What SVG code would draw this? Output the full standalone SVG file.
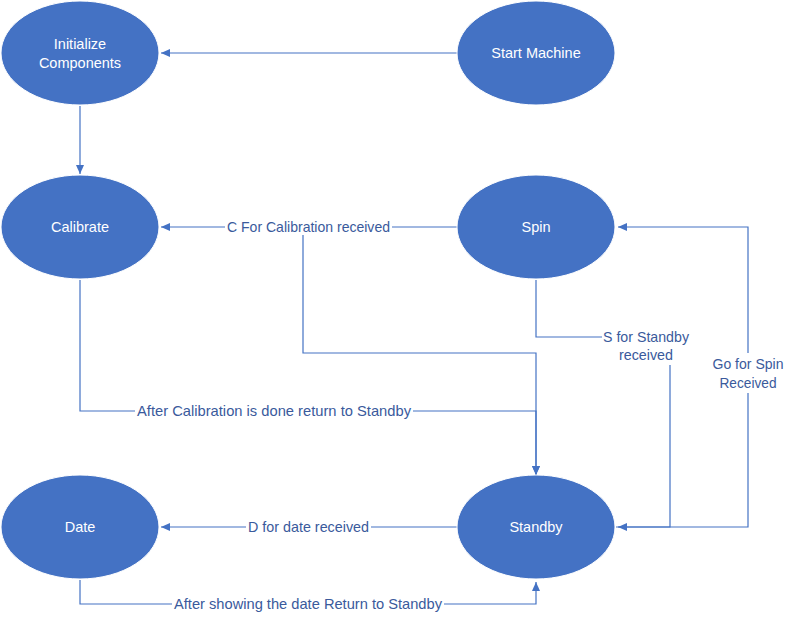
<svg xmlns="http://www.w3.org/2000/svg" width="793" height="622" viewBox="0 0 793 622">
<defs>
<marker id="arr" markerWidth="10" markerHeight="10" refX="9" refY="5" orient="auto" markerUnits="userSpaceOnUse">
<path d="M0,1 L9,5 L0,9 Z" fill="#4472C4"/>
</marker>
<style>
.node ellipse{fill:#4472C4;stroke:#ffffff;stroke-width:1}
.node text{fill:#ffffff;font-family:"Liberation Sans","DejaVu Sans",sans-serif;font-size:14.5px;text-anchor:middle;dominant-baseline:central}
.conn path{fill:none;stroke:#4472C4;stroke-width:1.2}
.lbl rect{fill:#ffffff}
.lbl text{fill:#3A5A9C;font-family:"Liberation Sans","DejaVu Sans",sans-serif;font-size:14.5px;text-anchor:middle;dominant-baseline:central}
</style>
</defs>
<rect width="793" height="622" fill="#ffffff"/>
<g id="connectors" class="conn">
<path d="M457,53 H161" marker-end="url(#arr)"/>
<path d="M80,106 V174" marker-end="url(#arr)"/>
<path d="M457,227 H161" marker-end="url(#arr)"/>
<path d="M303,227 V353 H536 V475" marker-end="url(#arr)"/>
<path d="M80,280 V411 H536 V475" marker-end="url(#arr)"/>
<path d="M536,280 V337 H646"/>
<path d="M670,360 V527 H618" marker-end="url(#arr)"/>
<path d="M616,527 H748 V227 H618" marker-end="url(#arr)"/>
<path d="M457,527 H161" marker-end="url(#arr)"/>
<path d="M80,580 V604 H536 V582" marker-end="url(#arr)"/>
</g>
<g id="labels" class="lbl">
<g id="lbl-c"><rect x="225" y="219" width="167" height="16"/><text x="308.5" y="227" textLength="163" lengthAdjust="spacingAndGlyphs">C For Calibration received</text></g>
<g id="lbl-cal"><rect x="135" y="403" width="278" height="16"/><text x="274" y="411" textLength="274" lengthAdjust="spacingAndGlyphs">After Calibration is done return to Standby</text></g>
<g id="lbl-s"><rect x="602" y="328" width="89" height="37"/><text x="646" y="337" textLength="86" lengthAdjust="spacingAndGlyphs">S for Standby</text><text x="646" y="355" textLength="54" lengthAdjust="spacingAndGlyphs">received</text></g>
<g id="lbl-go"><rect x="710" y="353" width="76" height="40"/><text x="748" y="364" textLength="71" lengthAdjust="spacingAndGlyphs">Go for Spin</text><text x="748" y="383" textLength="57" lengthAdjust="spacingAndGlyphs">Received</text></g>
<g id="lbl-d"><rect x="246" y="519" width="125" height="16"/><text x="308.5" y="527" textLength="121" lengthAdjust="spacingAndGlyphs">D for date received</text></g>
<g id="lbl-date"><rect x="172" y="596" width="272" height="16"/><text x="308" y="604" textLength="268" lengthAdjust="spacingAndGlyphs">After showing the date Return to Standby</text></g>
</g>
<g id="node-init" class="node"><ellipse cx="80" cy="53" rx="79" ry="52"/><text x="80" y="44">Initialize</text><text x="80" y="63">Components</text></g>
<g id="node-start" class="node"><ellipse cx="536" cy="53" rx="79" ry="52"/><text x="536" y="53">Start Machine</text></g>
<g id="node-calibrate" class="node"><ellipse cx="80" cy="227" rx="79" ry="52"/><text x="80" y="227">Calibrate</text></g>
<g id="node-spin" class="node"><ellipse cx="536" cy="227" rx="79" ry="52"/><text x="536" y="227">Spin</text></g>
<g id="node-date" class="node"><ellipse cx="80" cy="527" rx="79" ry="52"/><text x="80" y="527">Date</text></g>
<g id="node-standby" class="node"><ellipse cx="536" cy="527" rx="79" ry="52"/><text x="536" y="527">Standby</text></g>
</svg>
